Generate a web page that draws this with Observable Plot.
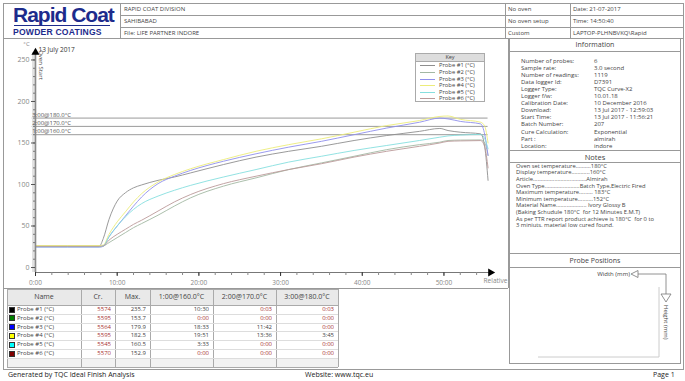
<!DOCTYPE html>
<html><head><meta charset="utf-8">
<script src="https://cdn.jsdelivr.net/npm/d3@7"></script>
<script src="https://cdn.jsdelivr.net/npm/@observablehq/plot@0.6"></script>
<style>
body{margin:0;background:#fff;}
#page{position:relative;width:685px;height:381px;font-family:"Open Sans",sans-serif;color:#333;overflow:hidden;background:#fff;}
.a{position:absolute;white-space:pre;}
.hl{position:absolute;height:0;border-top:1px solid #999;}
.vl{position:absolute;width:0;border-left:1px solid #999;}
.box{position:absolute;border:1px solid #999;box-sizing:border-box;background:#fff;}
.boxh{position:absolute;left:0;right:0;top:0;border-bottom:1px solid #999;text-align:center;font-size:7px;color:#444;}
.cell{position:absolute;box-sizing:border-box;white-space:nowrap;overflow:hidden;font-size:6px;color:#444;}
.red{color:#a83232;}
.sw{position:absolute;width:6px;height:6px;box-sizing:border-box;border:0.5px solid #333;}
#chart{position:absolute;left:3px;top:38px;}
</style></head>
<body><div id="page"></div>
<script>
// ---------- data ----------
const probes = ["Probe #1 (°C)","Probe #2 (°C)","Probe #3 (°C)","Probe #4 (°C)","Probe #5 (°C)","Probe #6 (°C)"];
const minutes = [0, 7.8, 8.3, 9, 10, 11, 12, 13, 15, 17, 19, 23, 27, 31, 35, 39, 43, 47, 49.5, 50.5, 52, 54.5, 55.0, 55.4];
const probe1 = [25.5, 25.5, 35, 58, 80, 90, 96, 99.5, 105, 109, 114, 124, 133, 140, 146, 153, 159, 164, 167.5, 165, 163, 161, 145, 105];
const probe2 = [25.5, 25.5, 26, 30, 36, 42, 48, 53, 63, 74, 84, 98, 108, 118, 126, 134, 142, 148, 151, 153, 153.5, 153.7, 150, 135];
const probe3 = [24.5, 24.5, 25.5, 37, 50, 62, 74, 85, 101, 110, 117, 128, 137, 145, 152, 160, 168, 175, 179.9, 179, 176, 173, 160, 135];
const probe4 = [26.5, 26.5, 27, 40, 55, 67, 79, 89, 103, 112, 119, 130, 140, 148, 155, 163, 171, 177, 182, 182.5, 178.5, 175, 170, 150];
const probe5 = [25, 25, 26, 37, 50, 61, 70, 77, 86, 93, 99, 109, 118, 127, 134, 141, 147, 153, 157, 158.5, 159.5, 160.3, 155, 143];
const probe6 = [25.5, 25.5, 26, 33, 40, 46, 52, 57, 68, 79, 88, 101, 110, 118, 125, 133, 140, 146, 150, 152, 152.5, 152.9, 145, 120];
const refTemps = [180, 170, 160];
const refLabels = ["3:00@180.0°C", "2:00@170.0°C", "1:00@160.0°C"];
const xTicks = [0, 10, 20, 30, 40, 50];
const yTicks = [0, 50, 100, 150, 200, 250];

const crValues = [5574, 5595, 5564, 5595, 5545, 5570];
const maxValues = [235.7, 153.7, 179.9, 182.5, 160.5, 152.9];
const time160 = ["10:30", "0:00", "18:33", "19:51", "3:33", "0:00"];
const time170 = ["0:03", "0:00", "11:42", "13:36", "0:00", "0:00"];
const time180 = ["0:03", "0:00", "0:00", "3:45", "0:00", "0:00"];
const tableHeads = ["Name", "Cr.", "Max.", "1:00@160.0°C", "2:00@170.0°C", "3:00@180.0°C"];

const headerCol1 = ["RAPID COAT DIVISION", "SAHIBABAD", "File: LIFE PARTNER INDORE"];
const headerCol2 = ["No oven", "No oven setup", "Custom"];
const headerCol3 = ["Date: 21-07-2017", "Time: 14:50:40", "LAPTOP-PLHNBVKQ\\Rapid"];

const infoLabels = ["Number of probes:", "Sample rate:", "Number of readings:", "Data logger Id:", "Logger Type:", "Logger f/w:", "Calibration Date:", "Download:", "Start Time:", "Batch Number:", "Cure Calculation:", "Part :", "Location:"];
const infoValues = ["6", "3.0 second", "1119", "D7391", "TQC Curve-X2", "10.01.18", "10 December 2016", "13 Jul 2017 - 12:59:03", "13 Jul 2017 - 11:56:21", "207", "Exponential", "almirah", "indore"];
const notes = [
  "Oven set temperature..........180°C",
  "Display temperature............160°C",
  "Article...................................Almirah",
  "Oven Type.......................Batch Type,Electric Fired",
  "Maximum temperature......... 183°C",
  "Minimum temperature..........152°C",
  "Material Name.................... Ivory Glossy B",
  "(Baking Schudule 180°C  for 12 Minutes E.M.T)",
  "As per TTR report product achieve is 180°C  for 0 to",
  "3 miniuts. material low cured found."
];

// ---------- styles ----------
const lineColors = ["#8e8e8e", "#a3b8a3", "#9090ec", "#ecec7a", "#86dfdf", "#bb9a9a"];
const swatchColors = ["#000000", "#008000", "#0000ff", "#ffff00", "#00ffff", "#800000"];

const page = document.getElementById("page");
function el(html){ page.insertAdjacentHTML("beforeend", html); }

// frame lines
el(`<div class="box" style="left:3px;top:3px;width:681px;height:367px;background:none"></div>`);
el(`<div class="hl" style="left:3px;top:38px;width:680px"></div>`);
el(`<div class="vl" style="left:120px;top:3px;height:35px"></div>`);
el(`<div class="vl" style="left:505px;top:3px;height:35px"></div>`);
el(`<div class="vl" style="left:570px;top:3px;height:35px"></div>`);
el(`<div class="hl" style="left:120px;top:15px;width:563px"></div>`);
el(`<div class="hl" style="left:120px;top:27px;width:563px"></div>`);
el(`<div class="vl" style="left:508px;top:38px;height:250px"></div>`);
el(`<div class="hl" style="left:3px;top:288px;width:505px"></div>`);

// logo
el(`<div class="a" style="left:13px;top:4px;font-family:'Liberation Sans',Arial,sans-serif;font-weight:bold;font-size:21px;color:#1d2b8c;letter-spacing:-1px;line-height:22px">Rapid Coat</div>`);
el(`<div class="hl" style="left:14px;top:25px;width:96px;border-top:1.5px solid #1d2b8c"></div>`);
el(`<div class="a" style="left:13px;top:26.5px;font-family:'Liberation Sans',Arial,sans-serif;font-weight:bold;font-size:8.6px;color:#1d2b8c;letter-spacing:0.2px;line-height:10px">POWDER COATINGS</div>`);

// header text
const rowsY = [5, 17, 28.5];
headerCol1.forEach((t,i)=>el(`<div class="a" style="left:124px;top:${rowsY[i]}px;font-size:6px;line-height:8px;color:#444">${t}</div>`));
headerCol2.forEach((t,i)=>el(`<div class="a" style="left:508px;top:${rowsY[i]}px;font-size:6px;line-height:8px;color:#444">${t}</div>`));
headerCol3.forEach((t,i)=>el(`<div class="a" style="left:573px;top:${rowsY[i]}px;font-size:6px;line-height:8px;color:#444">${t}</div>`));

// info panel
el(`<div class="box" style="left:509px;top:38px;width:172px;height:113px"><div class="boxh" style="height:12px;line-height:12px">Information</div></div>`);
infoLabels.forEach((t,i)=>{
  el(`<div class="a" style="left:521px;top:${56.5+i*7.1}px;font-size:6px;line-height:8px;color:#444">${t}</div>`);
  el(`<div class="a" style="left:594px;top:${56.5+i*7.1}px;font-size:6px;line-height:8px;color:#444">${infoValues[i]}</div>`);
});
// notes
el(`<div class="box" style="left:509px;top:150px;width:172px;height:104px"><div class="boxh" style="height:11px;line-height:12px;font-size:7.5px">Notes</div></div>`);
notes.forEach((t,i)=>el(`<div class="a" style="left:516px;top:${161.8+i*6.6}px;font-size:5.8px;line-height:8px;color:#444">${t}</div>`));
// probe positions
el(`<div class="box" style="left:509px;top:253px;width:172px;height:111px"><div class="boxh" style="height:13px;line-height:14px">Probe Positions</div></div>`);
el(`<svg class="a" style="left:0;top:0" width="685" height="381">
  <line x1="538" y1="357" x2="659" y2="357" stroke="#ccc"/>
  <line x1="659" y1="287" x2="659" y2="357" stroke="#ccc"/>
  <polygon points="631,274 638,270.5 638,277.5" fill="#fff" stroke="#777" stroke-width="0.8"/>
  <polyline points="638,274 666,274 666,294" fill="none" stroke="#777" stroke-width="0.8"/>
  <polygon points="661,294 671,294 666,302" fill="#fff" stroke="#777" stroke-width="0.8"/>
  <text x="630" y="276" text-anchor="end" font-size="6" fill="#444" font-family="Open Sans">Width (mm)</text>
  <text transform="translate(664,305) rotate(90)" font-size="6" fill="#444" font-family="Open Sans">Height (mm)</text>
</svg>`);

// table (absolute cells)
const colX = [7, 81, 115, 150, 213, 276, 338];
const tTop = 289, headH = 16, rowH = 8.8, nRows = 7;
const tBottom = tTop + headH + rowH * nRows;
el(`<div class="a" style="left:${colX[0]}px;top:${tTop}px;width:${colX[6]-colX[0]}px;height:${headH}px;background:#e9e9e9"></div>`);
el(`<div class="a" style="left:${colX[0]}px;top:${tTop+headH+rowH*6}px;width:${colX[6]-colX[0]}px;height:${rowH}px;background:#f2f2f2"></div>`);
colX.forEach(x=>el(`<div class="vl" style="left:${x}px;top:${tTop}px;height:${tBottom-tTop}px;border-color:#aaa"></div>`));
el(`<div class="hl" style="left:${colX[0]}px;top:${tTop}px;width:${colX[6]-colX[0]}px;border-color:#aaa"></div>`);
for (let i = 0; i <= nRows; i++) el(`<div class="hl" style="left:${colX[0]}px;top:${tTop+headH+rowH*i}px;width:${colX[6]-colX[0]}px;border-color:${i===0||i===nRows?'#aaa':'#ddd'}"></div>`);
tableHeads.forEach((h,j)=>el(`<div class="cell" style="left:${colX[j]}px;top:${tTop}px;width:${colX[j+1]-colX[j]}px;height:${headH}px;line-height:${headH}px;text-align:center;font-size:7px">${h}</div>`));
const redIf = (v, need) => (+v.split(":")[0] < need) ? "red" : "";
probes.forEach((p,i)=>{
  const y = tTop + headH + rowH*i;
  const cells = [
    [String(crValues[i]), "red"], [maxValues[i].toFixed(1), ""],
    [time160[i], redIf(time160[i],1)], [time170[i], redIf(time170[i],2)], [time180[i], redIf(time180[i],3)]
  ];
  el(`<div class="sw" style="left:9px;top:${y+1.5}px;background:${swatchColors[i]}"></div>`);
  el(`<div class="cell" style="left:17px;top:${y}px;width:60px;height:${rowH}px;line-height:${rowH+1}px">${p}</div>`);
  cells.forEach(([t,cls],k)=>{
    const j = k+1;
    el(`<div class="cell ${cls}" style="left:${colX[j]}px;top:${y}px;width:${colX[j+1]-colX[j]-4}px;height:${rowH}px;line-height:${rowH+1}px;text-align:right">${t}</div>`);
  });
});

// footer
el(`<div class="a" style="left:8px;top:370px;font-size:7px;line-height:10px;color:#222">Generated by TQC Ideal Finish Analysis</div>`);
el(`<div class="a" style="left:305px;top:370px;font-size:7px;line-height:10px;color:#222">Website: www.tqc.eu</div>`);
el(`<div class="a" style="left:653px;top:370px;font-size:7px;line-height:10px;color:#222">Page 1</div>`);

// ---------- chart ----------
const series = [probe1, probe2, probe3, probe4, probe5, probe6];
const rows = series.flatMap((vals, i) => vals.map((v, j) => ({probe: probes[i], t: minutes[j], temp: v})));
const refs = refTemps.map((t, i) => ({temp: t, label: refLabels[i]}));

const chart = Plot.plot({
  width: 505, height: 250,
  marginLeft: 32, marginRight: 18, marginTop: 14, marginBottom: 16,
  style: {fontFamily: "Open Sans", fontSize: "7px", color: "#888", background: "transparent", overflow: "visible"},
  x: {domain: [0, 55.7], label: null},
  y: {domain: [-6, 259], label: null},
  color: {domain: probes, range: lineColors},
  marks: [
    Plot.ruleY(refs, {y: "temp", x1: -0.4, x2: 55.4, stroke: "#9a9a9a", strokeWidth: 1}),
    Plot.line(rows, {x: "t", y: "temp", z: "probe", stroke: "probe", strokeWidth: 0.9, curve: "monotone-x"}),
    Plot.ruleX([0], {y1: -6, y2: 259, stroke: "#e2e2e2", strokeWidth: 3, dx: -2}),
    Plot.ruleX([0], {y1: -6, y2: 259, stroke: "#8a8a8a", strokeWidth: 1.6}),
    Plot.text(refs, {x: -0.4, y: "temp", text: "label", textAnchor: "start", dy: -3.5, fill: "#555", fontSize: 6}),
    Plot.axisY(d3.range(0, 251, 10), {tickSize: 2, tickFormat: () => "", stroke: "#777", label: null}),
    Plot.axisY(yTicks, {tickSize: 4, tickPadding: 2, stroke: "#555", fill: "#888", label: null, fontSize: 7}),
    Plot.ruleY([-6], {x1: 0, x2: 55.7, stroke: "#777", strokeWidth: 1}),
    Plot.axisX(d3.range(0, 56, 2), {tickSize: 3, tickFormat: () => "", stroke: "#888", label: null}),
    Plot.axisX(xTicks, {tickSize: 4, tickPadding: 4, stroke: "#333", fill: "#888", label: null, tickFormat: d => d + ":00", fontSize: 6.5}),
    Plot.dot([{x: 55.7, y: -6}], {x: "x", y: "y", symbol: "triangle", r: 3, fill: "#000", rotate: 90}),
    Plot.dot([{x: 0, y: 259}], {x: "x", y: "y", symbol: "triangle", r: 3, fill: "#000"}),
    Plot.text(["13 July 2017"], {x: 0, y: 259, text: d => d, dx: 3, dy: -3, textAnchor: "start", fill: "#333", fontSize: 6.5}),
    Plot.text(["°C"], {x: 0, y: 259, text: d => d, dx: -9, dy: -8, fill: "#888", fontSize: 6}),
    Plot.text(["Oven Start"], {x: 0, y: 244, text: d => d, dx: 5, rotate: 90, fill: "#444", fontSize: 6}),
    Plot.text(["Relative"], {x: 55.7, y: -6, text: d => d, dx: 5, dy: 8, fill: "#888", fontSize: 6.5})
  ]
});
const wrap = document.createElement("div");
wrap.id = "chart";
wrap.appendChild(chart);
page.appendChild(wrap);

// key legend (HTML overlay)
el(`<div class="box" style="left:415px;top:53px;width:70px;height:49px;border-color:#aaa">
<div style="position:absolute;left:0;right:0;top:0;height:7px;background:#ddd;border-bottom:1px solid #aaa;font-size:5.5px;line-height:7px;text-align:center;color:#444">Key</div></div>`);
probes.forEach((p,i)=>{
  const y = 65.3 + i*6.6;
  el(`<div class="hl" style="left:420px;top:${y}px;width:15px;border-top:1px solid ${lineColors[i]}"></div>`);
  el(`<div class="a" style="left:439px;top:${y-4}px;font-size:5.8px;line-height:8px;color:#444">${p}</div>`);
});
</script>
</body></html>
